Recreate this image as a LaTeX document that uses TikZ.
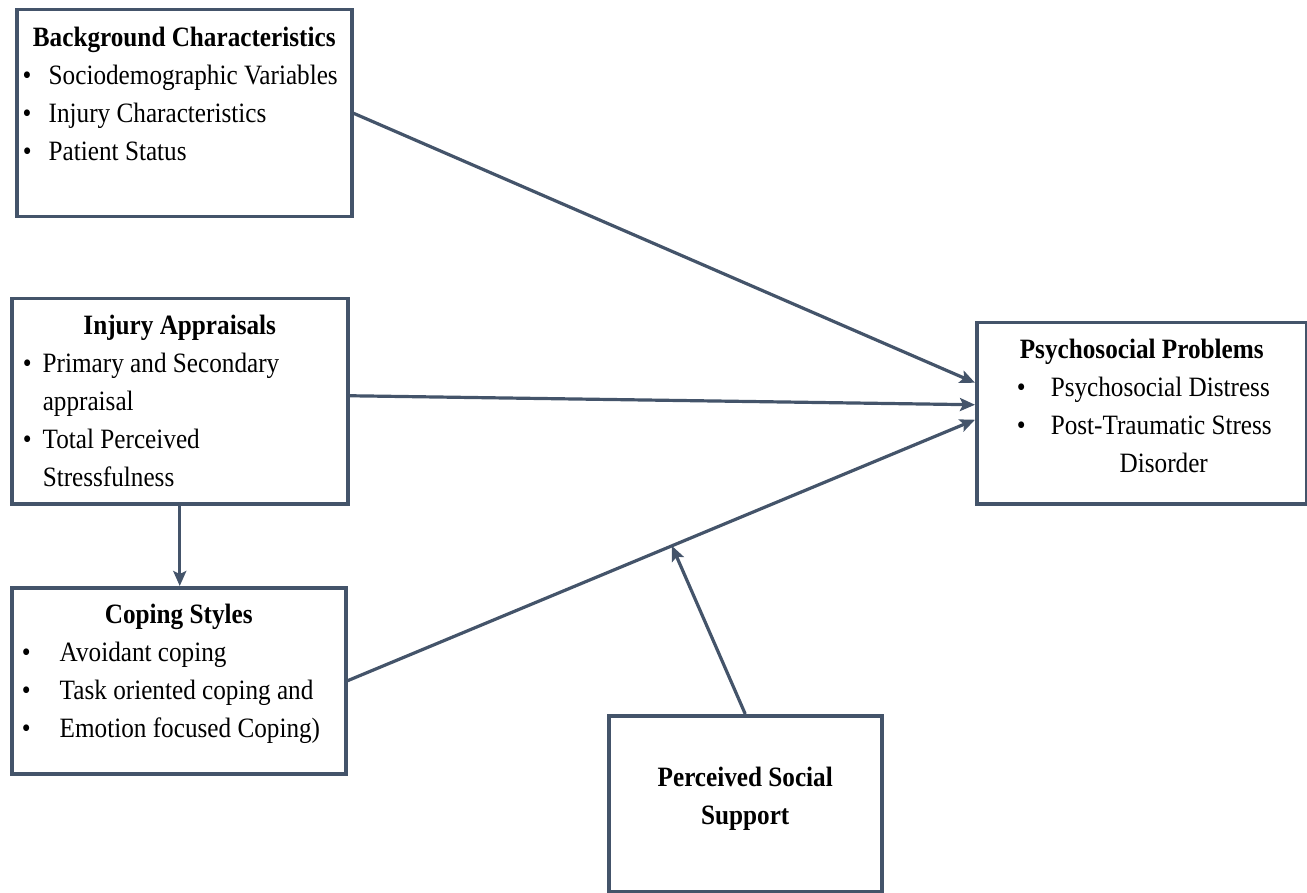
\documentclass[tikz,border=0pt]{standalone}
\usepackage{fontspec}
\setmainfont{Liberation Serif}[FakeStretch=0.9]
\usepackage{tikz}
\usetikzlibrary{arrows.meta}
\usetikzlibrary{calc}
\definecolor{boxline}{HTML}{44546A}
\newcommand{\boxtitle}[1]{\makebox[\linewidth]{\bfseries #1}}
\newcommand{\bitem}[3]{\hspace*{#1}\makebox[#2][l]{\textbullet}#3}

\begin{document}
\begin{tikzpicture}[x=0.5pt,y=-0.5pt]
\tikzset{font=\fontsize{14}{19}\selectfont}
\tikzset{box/.style={draw=boxline, line width=1.75pt, inner sep=0pt, anchor=north west}}
\tikzset{link/.style={draw=boxline, line width=1.6pt, -{Stealth[length=7.5pt,width=6.5pt,inset=1.5pt]}}}
\useasboundingbox (0,0) rectangle (1307,893);

\node[box] (bg) at (15,8) {\parbox[t][103.5pt][t]{167.5pt}{\rule{0pt}{18.5pt}\boxtitle{Background Characteristics}\\
\bitem{3pt}{13pt}{Sociodemographic Variables}\\
\bitem{3pt}{13pt}{Injury Characteristics}\\
\bitem{3pt}{13pt}{Patient Status}}};

\node[box] (ia) at (10,297) {\parbox[t][102.5pt][t]{168pt}{\rule{0pt}{18pt}\boxtitle{Injury Appraisals}\\
\bitem{5.5pt}{10pt}{Primary and Secondary}\\
\hspace*{15.5pt}appraisal\\
\bitem{5.5pt}{10pt}{Total Perceived}\\
\hspace*{15.5pt}Stressfulness}};

\node[box] (cs) at (10,586) {\parbox[t][93pt][t]{167pt}{\rule{0pt}{18pt}\boxtitle{Coping Styles}\\
\bitem{5pt}{19pt}{Avoidant coping}\\
\bitem{5pt}{19pt}{Task oriented coping and}\\
\bitem{5pt}{19pt}{Emotion focused Coping)}}};

\node[box] (psy) at (975,321) {\parbox[t][90.5pt][t]{165pt}{\rule{0pt}{18pt}\boxtitle{Psychosocial Problems}\\
\bitem{20pt}{17pt}{Psychosocial Distress}\\
\bitem{20pt}{17pt}{Post-Traumatic Stress}\\
\hspace*{37pt}\makebox[113pt]{Disorder}}};

\node[box] (pss) at (607,714) {\parbox[t][88pt][t]{136.5pt}{\centering\bfseries\rule{0pt}{35.5pt}Perceived Social\\
Support}};

\draw[link] (bg.east) -- ([yshift=15.25pt]psy.west);
\draw[link] ([yshift=2.75pt]ia.east) -- ([yshift=4.25pt]psy.west);
\draw[link] (cs.east) -- ([yshift=-3.25pt]psy.west);
\draw[link] (ia.south) -- (ia.south |- cs.north);
\coordinate (meet) at ($(cs.east)!0.517!([yshift=-3.25pt]psy.west)$);
\draw[link] (pss.north) -- (meet);
\end{tikzpicture}
\end{document}
